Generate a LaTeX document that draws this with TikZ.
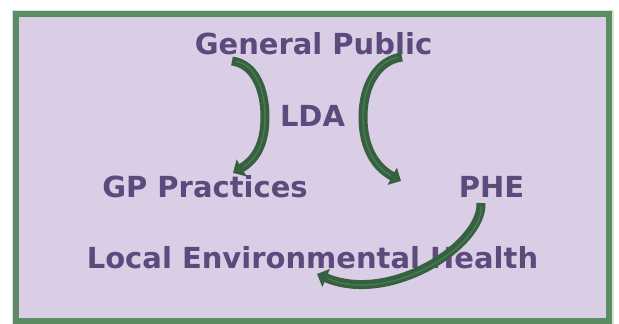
\documentclass[tikz,border=0pt]{standalone}
\usepackage{fontspec}
\setmainfont{DejaVu Sans}
\usetikzlibrary{arrows.meta}
\definecolor{panelfill}{HTML}{D9CEE6}
\definecolor{panelrim}{HTML}{5B8C63}
\definecolor{labelpurple}{HTML}{5C4A7D}
\definecolor{arrowdark}{HTML}{36603F}
\definecolor{arrowlight}{HTML}{467C51}
\tikzset{
  label/.style={anchor=base, inner sep=0pt, text=labelpurple,
    font=\fontsize{29}{34}\selectfont\bfseries},
  flow/.style={draw=arrowdark, line width=9pt, line cap=butt,
    -{Triangle[length=10pt,width=19pt]}},
  flowshine/.style={draw=arrowlight, line width=1.4pt, line cap=round, shorten >=12pt, shorten <=4pt},
}
\begin{document}
\begin{tikzpicture}[x=1pt,y=-1pt]
  \useasboundingbox (0,0) rectangle (619,324);
  % panel with soft rim
  \draw[panelrim!40, line width=9pt, opacity=0.6] (16,14) rectangle (609,321);
  \draw[fill=panelfill, draw=panelrim, line width=5.5pt] (16,14) rectangle (609,321);

  % labels
  \node[label] (gp)  at (313.5,54)  {General Public};
  \node[label] (lda) at (312.5,126) {LDA};
  \node[label] (gpp) at (205,197)   {GP Practices};
  \node[label] (phe) at (491.5,197) {PHE};
  \node[label] (leh) at (312.5,268) {Local Environmental Health};

  % connector end points
  \coordinate (s1) at (232,61);
  \coordinate (m1) at (265,117);
  \coordinate (e1) at (233,173);
  \coordinate (s2) at (402,57);
  \coordinate (m2) at (363,117);
  \coordinate (e2) at (401,181);
  \coordinate (s3) at (481,203);
  \coordinate (e3) at (317,274);

  % General Public -> GP Practices
  \draw[flow] (s1) .. controls (255,64) and (265,90) .. (m1) .. controls (265,145) and (255,160) .. (e1);
  \draw[flowshine] (s1) .. controls (255,64) and (265,90) .. (m1) .. controls (265,145) and (255,160) .. (e1);
  % General Public -> PHE
  \draw[flow] (s2) .. controls (378,60) and (363,85) .. (m2) .. controls (363,150) and (377,168) .. (e2);
  \draw[flowshine] (s2) .. controls (378,60) and (363,85) .. (m2) .. controls (363,150) and (377,168) .. (e2);
  % PHE -> Local Environmental Health
  \draw[flow] (s3) .. controls (483,245) and (390,305) .. (e3);
  \draw[flowshine] (s3) .. controls (483,245) and (390,305) .. (e3);
\end{tikzpicture}
\end{document}
